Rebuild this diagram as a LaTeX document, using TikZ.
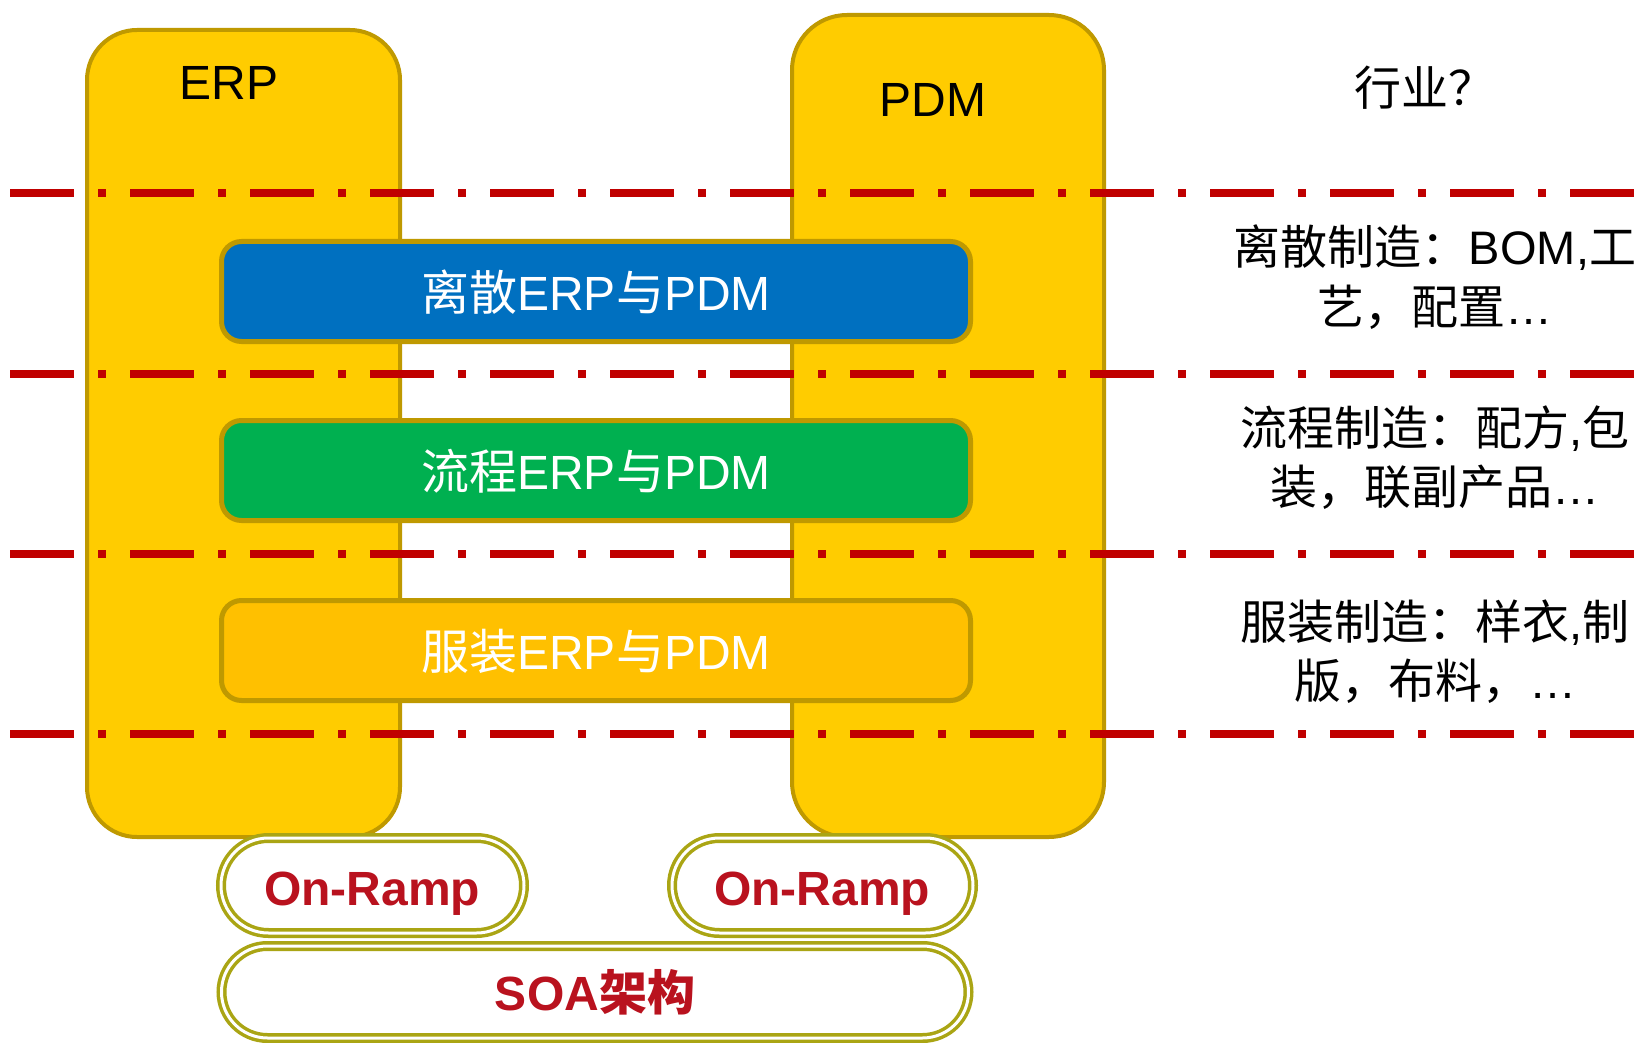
\documentclass[tikz,border=0pt]{standalone}
\usepackage{fontspec}
\setmainfont{Liberation Sans}
\newfontfamily\cjk{Noto Sans CJK SC}
\newcommand{\zh}[1]{{\cjk #1}}
\usetikzlibrary{shapes.misc}
\definecolor{goldline}{RGB}{191,153,0}
\definecolor{yellowfill}{RGB}{255,204,0}
\definecolor{sepred}{RGB}{192,0,0}
\definecolor{bandblue}{RGB}{0,112,192}
\definecolor{bandgreen}{RGB}{0,176,80}
\definecolor{bandorange}{RGB}{255,192,0}
\definecolor{rampolive}{RGB}{170,165,20}
\definecolor{rampred}{RGB}{185,18,30}
\begin{document}
\begin{tikzpicture}[x=1pt,y=-1pt,
  column/.style={draw=goldline, line width=4pt, fill=yellowfill, inner sep=0pt, minimum width=313pt},
  band/.style={draw=goldline, line width=5pt, rounded corners=20pt, inner sep=0pt, minimum width=749pt, minimum height=100pt},
  sepline/.style={draw=sepred, line width=8pt, dash pattern=on 64pt off 24pt on 8pt off 24pt},
  ramp/.style={rounded rectangle, draw=rampolive, line width=3.5pt, double=white, double distance=3pt, fill=white, inner sep=0pt},
  bigtxt/.style={font=\fontsize{48}{58}\selectfont, anchor=base, inner sep=0pt},
  sidetxt/.style={font=\fontsize{47}{59}\selectfont, anchor=base, inner sep=0pt},
  ramptxt/.style={font=\fontsize{48}{58}\selectfont\bfseries, text=rampred, anchor=base, inner sep=0pt}
]
\useasboundingbox (0,0) rectangle (1650,1043);
\fill[white] (0,0) rectangle (1650,1043);

% columns
\node[column, minimum height=807pt, rounded corners=50pt] (erp) at (243.5,433.5) {};
\node[column, minimum height=822pt, rounded corners=55pt, minimum width=312pt] (pdm) at (948,426) {};

% separators
\draw[sepline] (10,193.5) -- (1640,193.5);
\draw[sepline] (10,373.5) -- (1640,373.5);
\draw[sepline] (10,553.5) -- (1640,553.5);
\draw[sepline] (10,733.5) -- (1640,733.5);

% bands
\node[band, fill=bandblue] (b1) at (596,291.5) {};
\node[band, fill=bandgreen] (b2) at (596,470.5) {};
\node[band, fill=bandorange] (b3) at (596,650.5) {};

% ramps
\node[ramp, minimum width=303pt, minimum height=95pt] (r1) at (372.5,885.5) {};
\node[ramp, minimum width=301pt, minimum height=95pt] (r2) at (822.5,885.5) {};
\node[ramp, minimum width=747pt, minimum height=92pt] (soa) at (595,992) {};

% labels
\node[bigtxt] (erpl) at (229,100) {ERP};
\node[bigtxt] (pdml) at (933,117) {PDM};
\node[sidetxt] (hy) at (1425,106) {\zh{行业？}};

\node[bigtxt, text=white] (b1l) at (596,310) {\zh{离散}ERP\zh{与}PDM};
\node[bigtxt, text=white] (b2l) at (596,489) {\zh{流程}ERP\zh{与}PDM};
\node[bigtxt, text=white] (b3l) at (596,669) {\zh{服装}ERP\zh{与}PDM};

\node[sidetxt] (s1a) at (1435,265) {\zh{离散制造：}BOM,\zh{工}};
\node[sidetxt] (s1b) at (1435,324) {\zh{艺，配置}…};
\node[sidetxt] (s2a) at (1435,445) {\zh{流程制造：配方},\zh{包}};
\node[sidetxt] (s2b) at (1435,504) {\zh{装，联副产品}…};
\node[sidetxt] (s3a) at (1435,639) {\zh{服装制造：样衣},\zh{制}};
\node[sidetxt] (s3b) at (1435,698) {\zh{版，布料，}…};

\node[ramptxt] (r1l) at (372,905) {On-Ramp};
\node[ramptxt] (r2l) at (822,905) {On-Ramp};
\node[ramptxt] (soal) at (595,1010) {SOA\zh{架构}};
\end{tikzpicture}
\end{document}
